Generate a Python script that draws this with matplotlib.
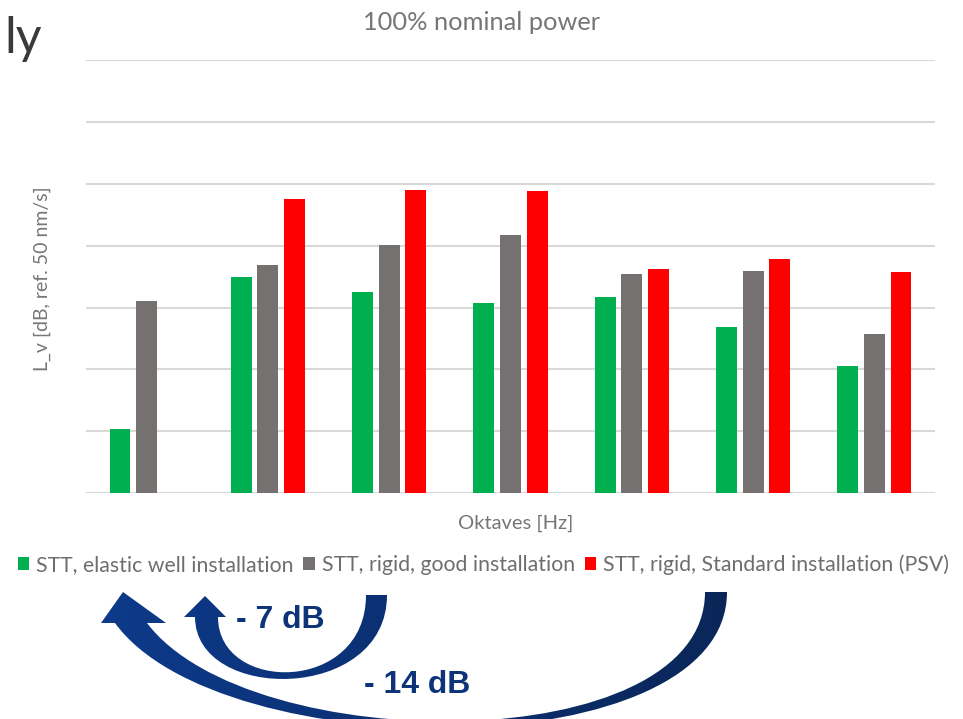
import numpy as np
import matplotlib
matplotlib.use("Agg")
import matplotlib.pyplot as plt
from matplotlib.path import Path
from matplotlib.patches import PathPatch, Patch
from matplotlib.colors import LinearSegmentedColormap

plt.rcParams['font.family'] = ['Lato', 'DejaVu Sans']

# Octave-band groups and vibration levels (dB, ref. 50 nm/s)
groups = list(range(1, 8))
elastic_well = [10.4, 34.9, 32.6, 30.7, 31.7, 26.9, 20.6]
rigid_good = [31.0, 36.9, 40.1, 41.8, 35.4, 35.9, 25.8]
rigid_standard = [np.nan, 47.6, 49.0, 48.9, 36.3, 37.8, 35.8]

series_names = ["STT, elastic well installation",
                "STT, rigid, good installation",
                "STT, rigid, Standard installation (PSV)"]
series_colors = ["#00b050", "#767171", "#ff0000"]
grid_step = 10
y_max = 70

W, H = 963, 719
fig = plt.figure(figsize=(W / 100, H / 100), dpi=100)

ax = fig.add_axes([86 / W, (H - 493.3) / H, (935 - 86) / W, (493.3 - 60) / H])
x = np.arange(len(groups))
bar_w = 0.172
offsets = [-0.22, 0.0, 0.22]
for vals, off, col in zip([elastic_well, rigid_good, rigid_standard], offsets, series_colors):
    ax.bar(x + off, vals, width=bar_w, color=col, zorder=3)

ax.set_xlim(-0.5, len(groups) - 0.5)
ax.set_ylim(0, y_max)
ax.set_yticks(np.arange(0, y_max + 1, grid_step))
ax.set_xticks([])
ax.tick_params(left=False, labelleft=False)
ax.grid(axis='y', color='#d9d9d9', linewidth=1.5, zorder=0)
for s in ax.spines.values():
    s.set_visible(False)

text_gray = '#767676'
fig.text(481.5 / W, 1 - 22 / H, "100% nominal power", ha='center', va='center',
         fontsize=18.3, color=text_gray)
fig.text(42 / W, 1 - 279 / H, "L_v [dB, ref. 50 nm/s]", rotation=90,
         ha='center', va='center', fontsize=14, color=text_gray)
fig.text(516 / W, 1 - 523 / H, "Oktaves [Hz]", ha='center', va='center',
         fontsize=14.5, color=text_gray)
fig.text(4 / W, 1 - 39 / H, "ly", ha='left', va='center', fontsize=36, color='#3a3a3a')

handles = [Patch(facecolor=c, edgecolor='none') for c in series_colors]
fig.legend(handles, series_names, loc='center', bbox_to_anchor=(483.5 / W, 1 - 565 / H),
           ncol=3, frameon=False, fontsize=15.3, handlelength=0.55, handleheight=0.55,
           handletextpad=0.33, columnspacing=0.45, labelcolor='#6e6e6e',
           borderpad=0.0)

# Curved reduction arrows drawn in pixel space on an overlay
ov = fig.add_axes([0, 0, 1, 1], zorder=10)
ov.set_xlim(0, W)
ov.set_ylim(H, 0)
ov.axis('off')
ov.patch.set_alpha(0)

navy = LinearSegmentedColormap.from_list("navy", ["#0d3a8a", "#0a2658"])


def curved_arrow(tail_out, tail_in, ctrl_out, ctrl_in, shaft_out, shaft_in,
                 head_l, tip, head_r):
    verts = [tail_out, ctrl_out[0], ctrl_out[1], shaft_out,
             head_l, tip, head_r, shaft_in,
             ctrl_in[1], ctrl_in[0], tail_in, tail_out]
    codes = [Path.MOVETO, Path.CURVE4, Path.CURVE4, Path.CURVE4,
             Path.LINETO, Path.LINETO, Path.LINETO, Path.LINETO,
             Path.CURVE4, Path.CURVE4, Path.CURVE4, Path.CLOSEPOLY]
    patch = PathPatch(Path(verts, codes), facecolor='none', edgecolor='none')
    ov.add_patch(patch)
    grad = np.linspace(0, 1, 256).reshape(1, -1)
    im = ov.imshow(grad, cmap=navy, extent=(100, 740, 730, 580), aspect='auto',
                   interpolation='bilinear')
    im.set_clip_path(patch)


# small arrow (good installation -> elastic well)
curved_arrow(tail_out=(387, 595), tail_in=(366, 595),
             ctrl_out=((387, 703), (195, 703)), ctrl_in=((366, 694), (218, 694)),
             shaft_out=(195, 617), shaft_in=(218, 617),
             head_l=(184, 617), tip=(205, 596), head_r=(226, 617))
# large arrow (standard installation -> elastic well)
curved_arrow(tail_out=(727, 592), tail_in=(705, 592),
             ctrl_out=((727, 768), (220, 768)), ctrl_in=((705, 759), (250, 759)),
             shaft_out=(115, 623), shaft_in=(147, 623),
             head_l=(101, 623), tip=(123, 592), head_r=(166, 623))
ov.set_xlim(0, W)
ov.set_ylim(H, 0)

lab_col = '#0d3478'
ov.text(280, 620, "- 7 dB", ha='center', va='center', fontsize=23, fontweight='bold',
        color=lab_col, family='Liberation Sans')
ov.text(417, 685, "- 14 dB", ha='center', va='center', fontsize=23, fontweight='bold',
        color=lab_col, family='Liberation Sans')

fig.savefig("out.png", dpi=100)
